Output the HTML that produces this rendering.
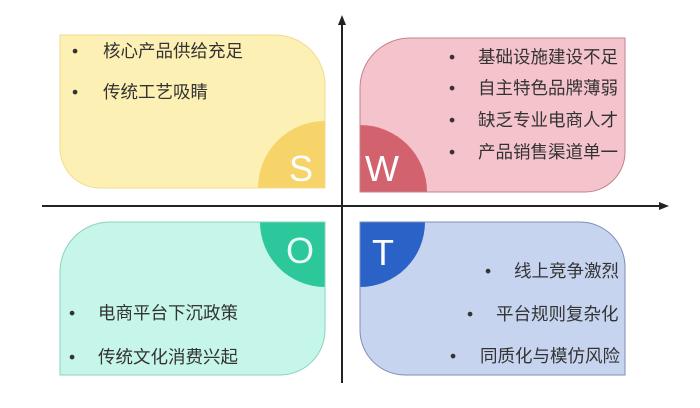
<!DOCTYPE html>
<html><head><meta charset="utf-8"><style>
html,body{margin:0;padding:0;background:#fff;}
svg{display:block;}
text{font-family:"Liberation Sans","Noto Sans CJK SC",sans-serif;font-size:17.5px;fill:#333;}
.big{font-size:36px;fill:#fff;}
</style></head><body>
<svg width="700" height="408" viewBox="0 0 700 408" xmlns="http://www.w3.org/2000/svg">
<defs>
<clipPath id="cs"><path d="M60,35 H275 A50,50 0 0 1 325,85 V188 H100 A40,40 0 0 1 60,148 Z"/></clipPath>
<clipPath id="cw"><path d="M410,38 H625 V152 A40,40 0 0 1 585,192 H360 V88 A50,50 0 0 1 410,38 Z"/></clipPath>
<clipPath id="co"><path d="M110,222 H325 V330 A45,45 0 0 1 280,375 H60 V272 A50,50 0 0 1 110,222 Z"/></clipPath>
<clipPath id="ct"><path d="M360,222 H580 A45,45 0 0 1 625,267 V375 H405 A45,45 0 0 1 360,330 Z"/></clipPath>
</defs>
<!-- S -->
<g clip-path="url(#cs)"><rect x="55" y="30" width="280" height="165" fill="#fdf0b4"/><circle cx="325" cy="188" r="67" fill="#f6d46a"/></g>
<path d="M60,35 H275 A50,50 0 0 1 325,85 V188 H100 A40,40 0 0 1 60,148 Z" fill="none" stroke="#f1dc8e" stroke-width="1"/>
<text class="big" x="289" y="181">S</text>
<text x="72" y="57">•</text><text x="103" y="57">核心产品供给充足</text>
<text x="72" y="98">•</text><text x="103" y="98">传统工艺吸睛</text>
<!-- W -->
<g clip-path="url(#cw)"><rect x="355" y="33" width="275" height="165" fill="#f5c3cb"/><circle cx="360" cy="192" r="67" fill="#d2636e"/></g>
<path d="M410,38 H625 V152 A40,40 0 0 1 585,192 H360 V88 A50,50 0 0 1 410,38 Z" fill="none" stroke="#c4838c" stroke-width="1"/>
<text class="big" x="365" y="181">W</text>
<text x="449" y="63">•</text><text x="478" y="63">基础设施建设不足</text>
<text x="449" y="94">•</text><text x="478" y="94">自主特色品牌薄弱</text>
<text x="449" y="126">•</text><text x="478" y="126">缺乏专业电商人才</text>
<text x="449" y="158">•</text><text x="478" y="158">产品销售渠道单一</text>
<!-- O -->
<g clip-path="url(#co)"><rect x="55" y="217" width="275" height="165" fill="#c6f5e9"/><circle cx="325" cy="222" r="65" fill="#2cc79a"/></g>
<path d="M110,222 H325 V330 A45,45 0 0 1 280,375 H60 V272 A50,50 0 0 1 110,222 Z" fill="none" stroke="#8ad3bd" stroke-width="1"/>
<text class="big" x="286" y="263" style="fill:#e6fbf5">O</text>
<text x="69" y="319">•</text><text x="98" y="319">电商平台下沉政策</text>
<text x="69" y="363">•</text><text x="98" y="363">传统文化消费兴起</text>
<!-- T -->
<g clip-path="url(#ct)"><rect x="355" y="217" width="275" height="165" fill="#c7d4ef"/><circle cx="360" cy="222" r="65" fill="#2a62c7"/></g>
<path d="M360,222 H580 A45,45 0 0 1 625,267 V375 H405 A45,45 0 0 1 360,330 Z" fill="none" stroke="#7d8fb6" stroke-width="1"/>
<text class="big" x="372" y="265">T</text>
<text x="485" y="277">•</text><text x="514" y="277">线上竞争激烈</text>
<text x="467" y="320">•</text><text x="496" y="320">平台规则复杂化</text>
<text x="450" y="362">•</text><text x="480" y="362">同质化与模仿风险</text>
<!-- axes -->
<line x1="342" y1="22" x2="342" y2="383" stroke="#222" stroke-width="2"/>
<polygon points="342,15 338,25 346,25" fill="#222"/>
<line x1="42" y1="206" x2="662" y2="206" stroke="#222" stroke-width="2"/>
<polygon points="669,206 659,202 659,210" fill="#222"/>
</svg>
</body></html>
